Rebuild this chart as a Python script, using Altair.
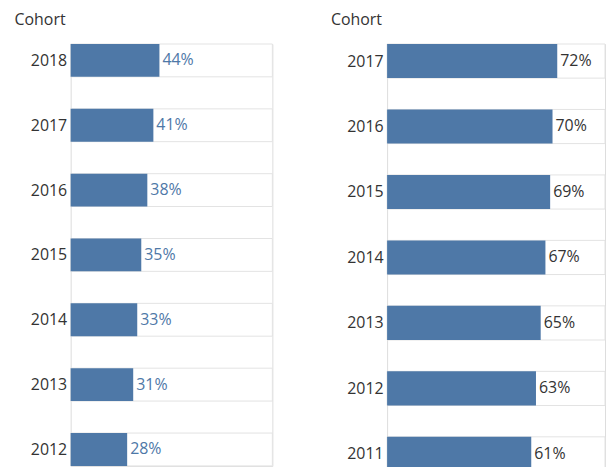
import altair as alt
import pandas as pd

left_years = ["2018", "2017", "2016", "2015", "2014", "2013", "2012"]
left_vals = [0.44, 0.41, 0.38, 0.35, 0.33, 0.31, 0.28]
right_years = ["2017", "2016", "2015", "2014", "2013", "2012", "2011"]
right_vals = [0.72, 0.70, 0.69, 0.67, 0.65, 0.63, 0.61]

BAR = "#4e78a7"
FONT = "Open Sans"


def panel(years, vals, width, step, band, xmax, text_color):
    n = len(years)
    b = band / step  # bar thickness as a fraction of a row
    plot_h = step * (n - 1) + band
    d0 = 0.5 - b / 2
    d1 = d0 + plot_h / step
    df = pd.DataFrame({"Cohort": years, "value": vals, "full": [1.0] * n})
    label_expr = "[" + ",".join("'%s'" % yr for yr in years) + "][floor(datum.value)]"
    ys = alt.Scale(domain=[d0, d1], reverse=True, clamp=True, nice=False, zero=False)
    yaxis = alt.Axis(
        title="Cohort",
        values=[i + 0.5 for i in range(n)],
        labelExpr=label_expr,
        titleAngle=0,
        titleAlign="left",
        titleBaseline="top",
        titleX=-57,
        titleY=-33,
        titleFontSize=16,
        titleFontWeight="normal",
        titleColor="#333333",
        titleFont=FONT,
        labelFontSize=16,
        labelColor="#333333",
        labelFont=FONT,
        labelPadding=4,
        labelBaseline="middle",
        labelOverlap=False,
        domain=False,
        ticks=False,
        grid=False,
    )
    xs = alt.Scale(domain=[0, xmax], nice=False, zero=True, clamp=True)
    base = (
        alt.Chart(df)
        .transform_window(idx="row_number()")
        .transform_calculate(
            c="datum.idx - 0.5",
            t="datum.idx - 0.5 - %f" % (b / 2),
            t2="datum.idx - 0.5 + %f" % (b / 2),
        )
    )
    bg = base.mark_bar(fill="white", stroke="#e3e3e3", strokeWidth=1).encode(
        x=alt.X("full:Q", scale=xs, axis=None),
        x2=alt.value(0),
        y=alt.Y("t:Q", scale=ys, axis=yaxis),
        y2="t2:Q",
    )
    bar = base.mark_bar(color=BAR).encode(
        x=alt.X("value:Q", scale=xs, axis=None),
        x2=alt.value(0),
        y=alt.Y("t:Q", scale=ys, axis=yaxis),
        y2="t2:Q",
    )
    txt = base.mark_text(
        align="left", baseline="middle", dx=3, fontSize=16, font=FONT, color=text_color
    ).encode(
        x=alt.X("value:Q", scale=xs, axis=None),
        y=alt.Y("c:Q", scale=ys, axis=yaxis),
        text=alt.Text("value:Q", format=".0%"),
    )
    return alt.layer(bg, bar, txt).properties(width=width, height=plot_h)


left = panel(left_years, left_vals, 202.7, 65.17, 33, 1.0, BAR)
right = panel(right_years, right_vals, 219, 65.8, 34.3, 219 / 237.5, "#333333")

chart = (
    alt.hconcat(left, right, spacing=56)
    .properties(padding={"left": 5, "top": 1, "right": 0, "bottom": 0})
    .configure_view(stroke=None)
    .configure(font=FONT)
)

chart.save("out.html", embed_options={"renderer": "svg", "actions": False})
